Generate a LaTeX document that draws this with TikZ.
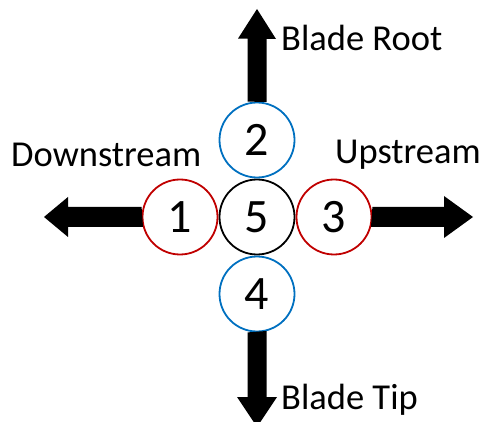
\documentclass[tikz,border=0pt]{standalone}
\usepackage{fontspec}
\setmainfont{Carlito}
\definecolor{cblue}{RGB}{0,112,192}
\definecolor{cred}{RGB}{192,0,0}
\begin{document}
\begin{tikzpicture}[x=1pt,y=-1pt,
  ring/.style={circle,draw,line width=1.8pt,minimum size=75pt,inner sep=0pt,font=\fontsize{48}{48}\selectfont},
  lbl/.style={font=\fontsize{36.5}{36.5}\selectfont,inner sep=0pt},
  fatarrow/.style={fill=black,draw=none}]
\useasboundingbox (0,0) rectangle (482,422);
\node[ring,draw=black] (c5) at (257,217) {5};
\node[ring,draw=cblue] (c2) at (257,140) {2};
\node[ring,draw=cblue] (c4) at (257,294) {4};
\node[ring,draw=cred] (c1) at (180,217) {1};
\node[ring,draw=cred] (c3) at (334,217) {3};
% arrows
\fill[fatarrow] (c2.north) ++(-9.5,0) -- ++(0,-63) -- ++(-9.5,0) -- (257,9) -- (276,39) -- (266.5,39) -- (266.5,102) -- cycle;
\fill[fatarrow] (c4.south) ++(-9.5,0) -- (247.5,397) -- (237,397) -- (257,427) -- (277,397) -- (266.5,397) -- (266.5,331) -- cycle;
\fill[fatarrow] (c1.west) ++(0,-10) -- (68,207) -- (68,197) -- (44,217) -- (68,237) -- (68,227) -- (143,227) -- cycle;
\fill[fatarrow] (c3.east) ++(0,-10) -- (444,207) -- (444,196) -- (473,217) -- (444,238) -- (444,227) -- (371,227) -- cycle;
% labels
\node[lbl,anchor=west] (root) at (281,38) {Blade Root};
\node[lbl,anchor=west] (tip) at (281,400) {Blade Tip};
\node[lbl,anchor=west] (down) at (11,155) {Downstream};
\node[lbl,anchor=west] (up) at (335,155) {Upstream};
\end{tikzpicture}
\end{document}
